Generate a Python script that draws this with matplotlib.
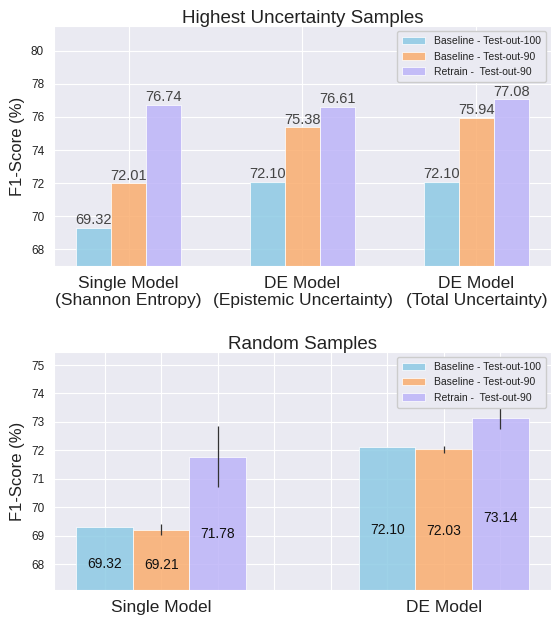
import numpy as np
import matplotlib
matplotlib.use("Agg")
import matplotlib.pyplot as plt
import seaborn as sns

# ---- data ----
series_names = ["Baseline - Test-out-100", "Baseline - Test-out-90", "Retrain -  Test-out-90"]

top_groups = ["Single Model\n(Shannon Entropy)", "DE Model\n(Epistemic Uncertainty)", "DE Model\n(Total Uncertainty)"]
top_base100 = [69.32, 72.10, 72.10]
top_base90 = [72.01, 75.38, 75.94]
top_retrain90 = [76.74, 76.61, 77.08]

rand_groups = ["Single Model", "DE Model"]
rand_base100 = [69.32, 72.10]
rand_base90 = [69.21, 72.03]
rand_retrain90 = [71.78, 73.14]
rand_base90_err = [0.20, 0.13]
rand_retrain90_err = [1.07, 0.40]

colors = ["#8DCAE4", "#FAAD6E", "#BDB4F9"]

sns.set_style("darkgrid")
plt.rcParams['font.family'] = ['Liberation Sans', 'DejaVu Sans']
plt.rcParams['text.color'] = '#222222'
plt.rcParams['xtick.color'] = '#222222'
plt.rcParams['ytick.color'] = '#222222'
plt.rcParams['axes.labelcolor'] = '#222222'

fig = plt.figure(figsize=(5.55, 6.17), dpi=100)
ax1 = fig.add_axes([0.097, 0.569, 0.896, 0.389])
ax2 = fig.add_axes([0.097, 0.043, 0.896, 0.387])

w = 0.2

# top chart
x = np.arange(len(top_groups))
vals = [top_base100, top_base90, top_retrain90]
for i, v in enumerate(vals):
    bars = ax1.bar(x + (i - 1) * w, v, w, color=colors[i], alpha=0.85,
                   label=series_names[i], edgecolor='white', linewidth=0.6, zorder=2)
    for b, val in zip(bars, v):
        ax1.text(b.get_x() + b.get_width() / 2, val + 0.03, "%.2f" % val,
                 ha='center', va='bottom', fontsize=10.5, color='#444444')
ax1.set_ylim(67, 81.5)
ax1.set_yticks(np.arange(68, 81, 2))
ax1.set_xticks(x)
ax1.set_xticklabels(top_groups, fontsize=12.5)
ax1.tick_params(axis='y', labelsize=8.5)
ax1.set_ylabel("F1-Score (%)", fontsize=12)
ax1.set_title("Highest Uncertainty Samples", fontsize=13.5, pad=2)
ax1.legend(loc='upper right', fontsize=7.5, frameon=True, facecolor='#EAEAF2',
           edgecolor='#CCCCCC', framealpha=1, handlelength=2.2, borderpad=0.5)

# bottom chart
x2 = np.arange(len(rand_groups))
vals2 = [rand_base100, rand_base90, rand_retrain90]
errs2 = [None, rand_base90_err, rand_retrain90_err]
lo = 67.07
for i, v in enumerate(vals2):
    bars = ax2.bar(x2 + (i - 1) * w, v, w, color=colors[i], alpha=0.85,
                   label=series_names[i], edgecolor='white', linewidth=0.6, zorder=2)
    if errs2[i] is not None:
        ax2.errorbar(x2 + (i - 1) * w, v, yerr=errs2[i], fmt='none',
                     ecolor='#333333', elinewidth=0.9, capsize=0, zorder=3)
    for b, val in zip(bars, v):
        ax2.text(b.get_x() + b.get_width() / 2, lo + 0.42 * (val - lo), "%.2f" % val,
                 ha='center', va='center', fontsize=10, color='#111111')
ax2.set_ylim(lo, 75.47)
ax2.set_yticks(np.arange(68, 76, 1))
ticks = np.round(np.arange(-0.2, 1.21, 0.2), 1)
ax2.set_xticks(ticks)
labs = []
for t in ticks:
    if abs(t - 0) < 1e-6:
        labs.append(rand_groups[0])
    elif abs(t - 1) < 1e-6:
        labs.append(rand_groups[1])
    else:
        labs.append("")
ax2.set_xticklabels(labs, fontsize=12.5)
ax2.tick_params(axis='y', labelsize=8.5)
ax2.set_ylabel("F1-Score (%)", fontsize=12)
ax2.set_title("Random Samples", fontsize=13.5, pad=2)
ax2.legend(loc='upper right', fontsize=7.5, frameon=True, facecolor='#EAEAF2',
           edgecolor='#CCCCCC', framealpha=1, handlelength=2.2, borderpad=0.5)

fig.savefig("out.png", dpi=100)
